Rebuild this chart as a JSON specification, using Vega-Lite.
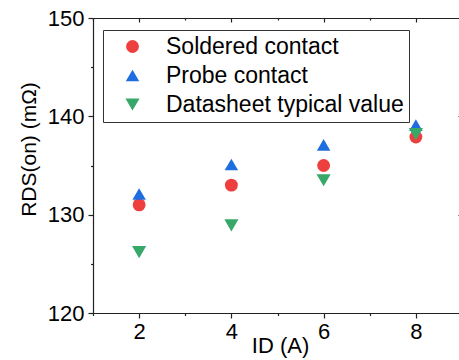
{
  "$schema": "https://vega.github.io/schema/vega-lite/v6.json",
  "width": 369,
  "height": 295,
  "autosize": "none",
  "padding": {"left": 93, "top": 18, "right": 0, "bottom": 47},
  "background": "white",
  "config": {
    "font": "Liberation Sans",
    "view": {"stroke": null},
    "axis": {
      "grid": false,
      "domainColor": "#222",
      "tickColor": "#222",
      "domainWidth": 1.2,
      "tickWidth": 1.2,
      "labelColor": "black",
      "titleColor": "black",
      "labelFontSize": 22,
      "titleFontSize": 22,
      "titleFontWeight": "normal"
    }
  },
  "data": {
    "values": [
      {"series": "Soldered contact", "I": 2, "R": 131.0},
      {"series": "Soldered contact", "I": 4, "R": 133.0},
      {"series": "Soldered contact", "I": 6, "R": 135.0},
      {"series": "Soldered contact", "I": 8, "R": 137.9},
      {"series": "Probe contact", "I": 2, "R": 132.1},
      {"series": "Probe contact", "I": 4, "R": 135.1},
      {"series": "Probe contact", "I": 6, "R": 137.1},
      {"series": "Probe contact", "I": 8, "R": 139.1},
      {"series": "Datasheet typical value", "I": 2, "R": 126.2},
      {"series": "Datasheet typical value", "I": 4, "R": 128.9},
      {"series": "Datasheet typical value", "I": 6, "R": 133.5},
      {"series": "Datasheet typical value", "I": 8, "R": 138.2}
    ]
  },
  "layer": [
    {
      "mark": {"type": "point", "filled": true, "opacity": 1},
      "encoding": {
        "x": {
          "field": "I", "type": "quantitative",
          "scale": {"domain": [1, 9], "nice": false, "zero": false},
          "axis": {
            "orient": "bottom", "values": [2, 4, 6, 8], "tickSize": 5, "labelPadding": 3,
            "title": "ID (A)", "titleX": 187, "titleY": 39, "titleBaseline": "alphabetic", "titleAlign": "center"
          }
        },
        "y": {
          "field": "R", "type": "quantitative",
          "scale": {"domain": [120, 150], "nice": false, "zero": false},
          "axis": {
            "orient": "left", "values": [120, 130, 140, 150], "tickSize": 5, "labelPadding": 4,
            "title": "RDS(on) (mΩ)", "titleX": -58, "titleY": 131, "titleAngle": 270,
            "titleBaseline": "alphabetic", "titleAlign": "center", "titleFontSize": 21
          }
        },
        "color": {
          "field": "series", "type": "nominal",
          "scale": {
            "domain": ["Soldered contact", "Probe contact", "Datasheet typical value"],
            "range": ["#ee3f3f", "#1e6ee0", "#37a86a"]
          },
          "legend": {
            "title": null, "orient": "none", "legendX": 10, "legendY": 12,
            "strokeColor": "#333", "fillColor": "white", "padding": 5,
            "labelFontSize": 23, "labelColor": "black", "rowPadding": 5, "labelLimit": 400,
            "symbolOffset": 13, "labelOffset": 22, "symbolStrokeWidth": 0
          }
        },
        "shape": {
          "field": "series", "type": "nominal",
          "scale": {
            "domain": ["Soldered contact", "Probe contact", "Datasheet typical value"],
            "range": ["circle", "triangle-up", "triangle-down"]
          }
        },
        "size": {
          "field": "series", "type": "nominal",
          "scale": {
            "domain": ["Soldered contact", "Probe contact", "Datasheet typical value"],
            "range": [165, 200, 200]
          }
        }
      }
    },
    {
      "mark": {"type": "point", "opacity": 0},
      "encoding": {
        "x": {"field": "I", "type": "quantitative", "axis": {"orient": "bottom", "values": [1, 3, 5, 7, 9], "tickSize": 2.5, "labels": false, "domain": false, "title": null}},
        "y": {"field": "R", "type": "quantitative", "axis": {"orient": "left", "values": [125, 135, 145], "tickSize": 2.5, "labels": false, "domain": false, "title": null}}
      }
    },
    {
      "mark": {"type": "point", "opacity": 0},
      "encoding": {
        "x": {"field": "I", "type": "quantitative", "axis": {"orient": "top", "values": [2, 4, 6, 8], "tickSize": -4, "labels": false, "title": null}},
        "y": {"field": "R", "type": "quantitative", "axis": {"orient": "right", "values": [120, 130, 140, 150], "tickSize": -4, "labels": false, "title": null}}
      }
    },
    {
      "mark": {"type": "point", "opacity": 0},
      "encoding": {
        "x": {"field": "I", "type": "quantitative", "axis": {"orient": "top", "values": [1, 3, 5, 7, 9], "tickSize": -2, "labels": false, "domain": false, "title": null}},
        "y": {"field": "R", "type": "quantitative", "axis": {"orient": "right", "values": [125, 135, 145], "tickSize": -2, "labels": false, "domain": false, "title": null}}
      }
    }
  ],
  "resolve": {"axis": {"x": "independent", "y": "independent"}}
}
